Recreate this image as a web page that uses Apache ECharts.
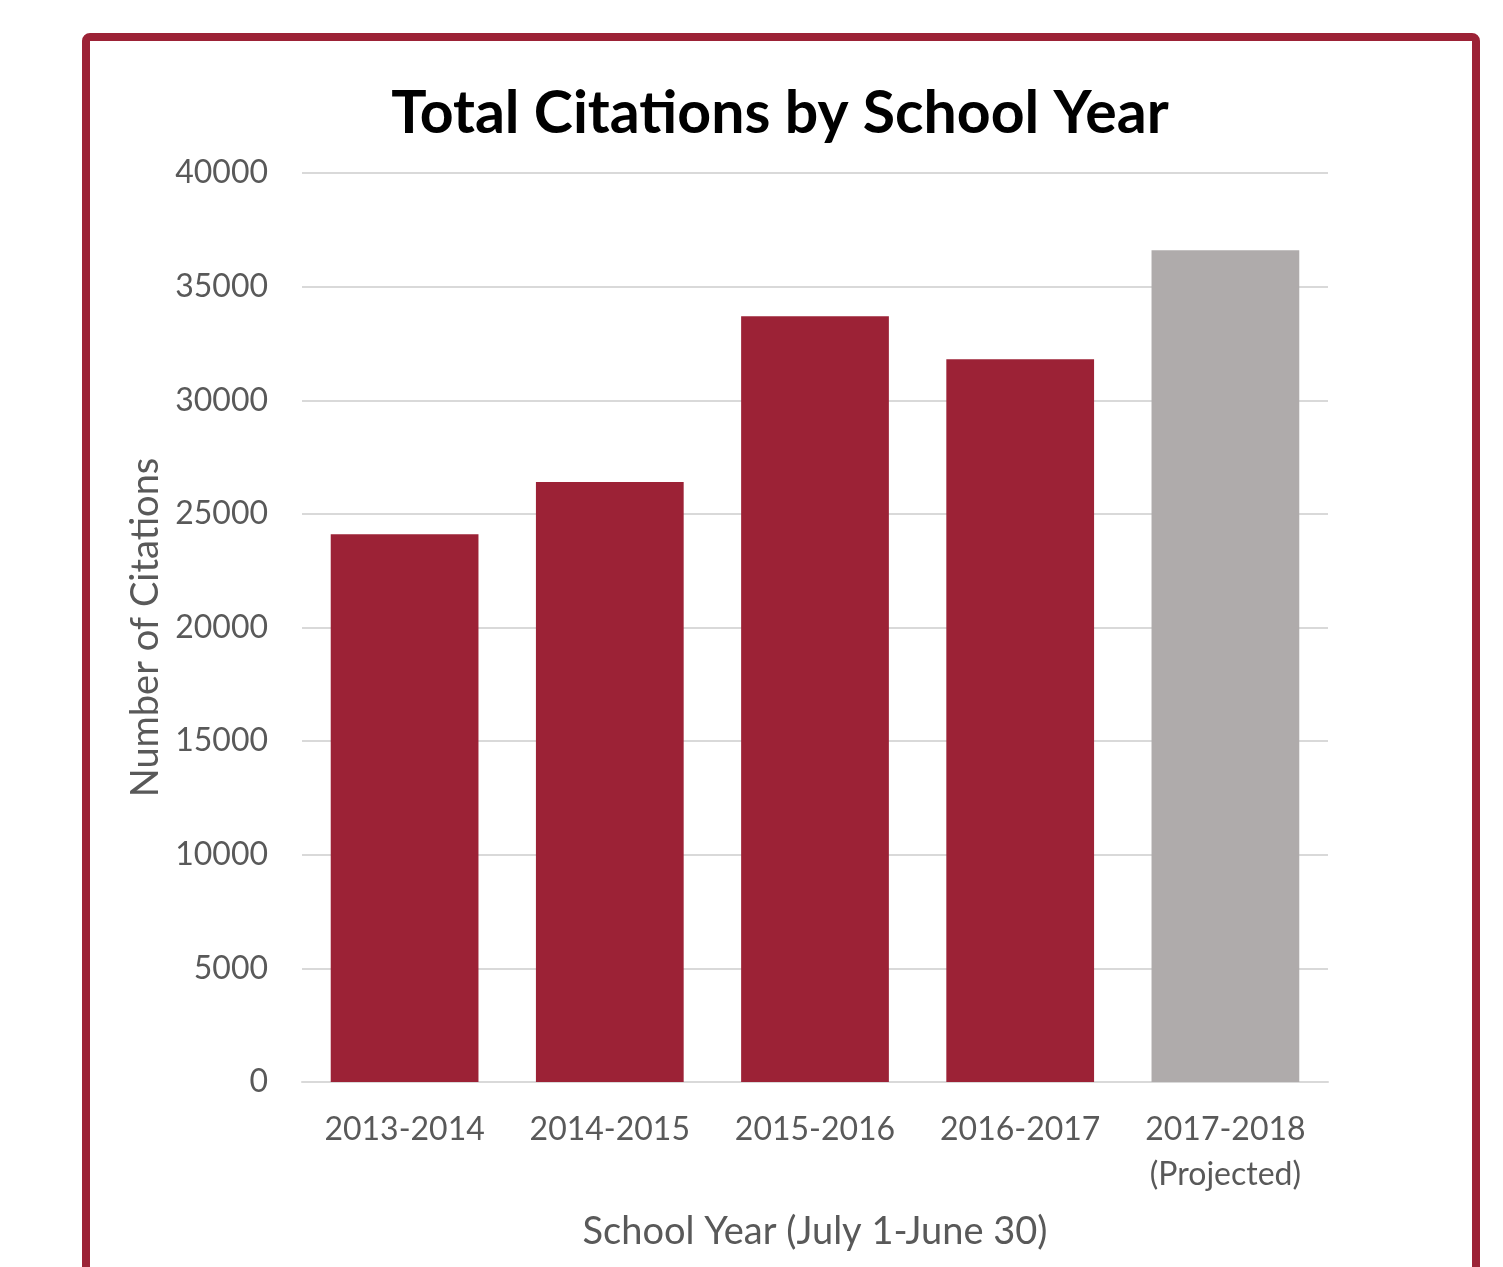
<!DOCTYPE html>
<html>
<head>
<meta charset="utf-8">
<script src="https://cdn.jsdelivr.net/npm/echarts@6/dist/echarts.min.js"></script>
<style>
  html, body { margin: 0; padding: 0; background: #fff; }
  #chart { width: 1503px; height: 1267px; }
</style>
</head>
<body>
<div id="chart"></div>
<script>
const years = ['2013-2014', '2014-2015', '2015-2016', '2016-2017', '2017-2018\n(Projected)']
const citations = [24100, 26400, 33700, 31800, 36600]
const projected = [false, false, false, false, true]
const yTicks = { min: 0, max: 40000, interval: 5000 }

const red = '#9c2236'
const grey = '#afabab'
const textGrey = '#595959'
const font = 'Lato'

let myChart = echarts.init(document.getElementById('chart'))
myChart.setOption({
  animation: false,
  title: {
    text: 'Total Citations by School Year',
    left: 775,
    textAlign: 'center',
    top: 79,
    textStyle: {
      fontFamily: font,
      fontWeight: 'bold',
      fontSize: 59,
      color: '#000'
    }
  },
  graphic: [
    {
      type: 'rect',
      shape: { x: 86, y: 37, width: 1390, height: 1300, r: 4 },
      style: { fill: 'none', stroke: red, lineWidth: 8 }
    }
  ],
  grid: {
    left: 302,
    right: 175,
    top: 173,
    bottom: 185
  },
  xAxis: {
    type: 'category',
    data: years,
    name: 'School Year (July 1-June 30)',
    nameLocation: 'middle',
    nameGap: 128,
    nameTextStyle: {
      fontFamily: font,
      fontSize: 38,
      lineHeight: 44,
      color: textGrey
    },
    axisLine: { lineStyle: { color: '#d9d9d9', width: 2 } },
    axisTick: { show: false },
    axisLabel: {
      interval: 0,
      margin: 25,
      fontFamily: font,
      fontSize: 32,
      lineHeight: 45,
      color: textGrey
    }
  },
  yAxis: {
    type: 'value',
    min: yTicks.min,
    max: yTicks.max,
    interval: yTicks.interval,
    name: 'Number of Citations',
    nameLocation: 'middle',
    nameGap: 133,
    nameTextStyle: {
      fontFamily: font,
      fontSize: 38,
      color: textGrey
    },
    axisLine: { show: false },
    axisTick: { show: false },
    axisLabel: {
      margin: 34,
      fontFamily: font,
      fontSize: 32,
      color: textGrey,
      formatter: v => String(v)
    },
    splitLine: { lineStyle: { color: '#d9d9d9', width: 2 } }
  },
  series: [
    {
      type: 'bar',
      barWidth: '72%',
      data: citations.map((v, i) => ({
        value: v,
        itemStyle: { color: projected[i] ? grey : red }
      }))
    }
  ]
})
</script>
</body>
</html>
